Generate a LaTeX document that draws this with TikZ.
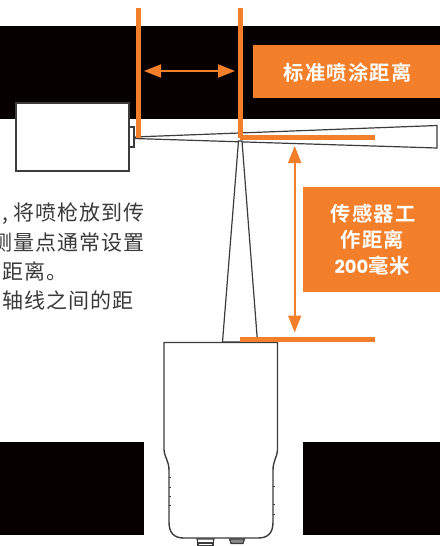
\documentclass[tikz,border=0pt]{standalone}
\usepackage{fontspec}
\setmainfont{Liberation Sans}
\newfontfamily\cjkbold[LetterSpace=6]{Noto Sans CJK SC Bold}
\newfontfamily\cjkreg[LetterSpace=5]{Noto Sans CJK SC}
\newfontfamily\latinbold{Poppins}
\usetikzlibrary{arrows.meta}
\definecolor{brandorange}{HTML}{F47F2A}
\definecolor{bandblack}{HTML}{070001}
\definecolor{outline}{HTML}{3C3C3C}
\definecolor{bodytext}{HTML}{3A3A3A}
\tikzset{
  band/.style={fill=bandblack,draw=none},
  tag/.style={fill=brandorange,draw=none,inner sep=0pt,anchor=north west},
  tagtext/.style={text=white,align=center,inner sep=0pt,font=\cjkbold\fontsize{20.3}{26}\selectfont},
  refline/.style={draw=brandorange,line width=5pt,line cap=butt},
  dimarrow/.style={draw=brandorange,line width=2pt,{Triangle[length=17pt,width=13pt]}-{Triangle[length=17pt,width=13pt]},shorten >=0pt,shorten <=0pt},
  device/.style={draw=outline,line width=1.4pt,fill=white,line join=miter},
  thin device/.style={draw=outline,line width=1.2pt,fill=white},
  copy/.style={text=bodytext,anchor=base west,inner sep=0pt,font=\cjkreg\fontsize{21}{22}\selectfont},
}
\begin{document}
\begin{tikzpicture}[x=1pt,y=-1pt]
\useasboundingbox (0,0) rectangle (440,546);
% black bands
\fill[band] (0,26) rectangle (440,119);
\fill[band] (0,442) rectangle (144,535);
\fill[band] (303,442) rectangle (440,535);
% body copy
\node[copy] (t1) at (2,220.5) {\makebox[11pt][l]{,}将喷枪放到传};
\node[copy] (t2) at (-9,250) {测量点通常设置};
\node[copy] (t3) at (2,279) {距离。};
\node[copy] (t4) at (2,308) {轴线之间的距};
% gun
\draw[thin device] (129,127) rectangle (134,147);
\draw[device] (16,103) rectangle (129,171);
\draw[thin device] (134,137) -- (437,125.5) -- (437,148) -- (134,138.5) -- cycle;
% sensor beam
\draw[thin device] (238.5,141) -- (222.5,342) -- (257.5,342) -- (242,141) -- cycle;
% sensor body
\draw[device] (164,342.5) -- (277.5,342.5) -- (277.5,450)
  .. controls (277.5,456) and (273,461) .. (273,470)
  -- (273,522) .. controls (273,533) and (268,538) .. (258,538)
  -- (184,538) .. controls (174,538) and (169,533) .. (169,522)
  -- (169,470) .. controls (169,461) and (164,456) .. (164,450) -- cycle;
\foreach \yy in {477,487,496,505} \draw[outline,line width=1pt] (169,\yy) -- (171,\yy);
\foreach \yy in {486,504,514} \draw[outline,line width=1pt] (273,\yy) -- (275,\yy);
\draw[thin device] (197,539) -- (214,539) -- (213,543) -- (198,543) -- cycle;
\draw[thin device] (198,543) rectangle (213,546);
\draw[thin device,fill=outline!60] (229.5,539) -- (244.5,539) -- (243,543.5) -- (231,543.5) -- cycle;
% orange reference lines
\coordinate (a1) at (138.5,8);
\coordinate (a2) at (138.5,137.5);
\coordinate (b1) at (240.5,8);
\coordinate (b2) at (240.5,137.5);
\coordinate (c1) at (240,137.5);
\coordinate (c2) at (375,137.5);
\coordinate (d1) at (240,339.5);
\coordinate (d2) at (375,339.5);
\draw[refline] (a1) -- (a2);
\draw[refline] (b1) -- (b2);
\draw[refline] (c1) -- (c2);
\draw[refline] (d1) -- (d2);
% dimension arrows
\coordinate (e1) at (144,71);
\coordinate (e2) at (235,71);
\coordinate (f1) at (294.7,146);
\coordinate (f2) at (294.7,332.5);
\draw[dimarrow] (e1) -- (e2);
\draw[dimarrow] (f1) -- (f2);
% orange tags
\node[tag,minimum width=187pt,minimum height=53pt] (tagA) at (253,45) {};
\node[tag,minimum width=137pt,minimum height=105pt] (tagB) at (303,187) {};
\node[tagtext] (labelA) at (347.5,73) {标准喷涂距离};
\node[tagtext] (labelB1) at (373,214) {传感器工};
\node[tagtext] (labelB2) at (372.5,240) {作距离};
\node[tagtext] (labelB3) at (372.5,266) {{\latinbold\bfseries\fontsize{18}{22}\selectfont 200}毫米};
\end{tikzpicture}
\end{document}
